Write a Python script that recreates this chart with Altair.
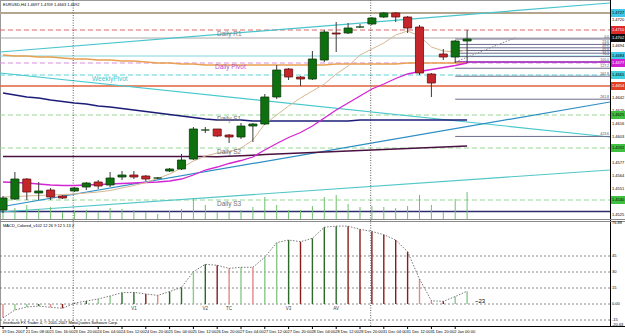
import altair as alt
import pandas as pd

# ---------------- data ----------------
bar_index = list(range(40))
opens = [1.4530, 1.4541, 1.4561, 1.4547, 1.4550, 1.4544, 1.4549, 1.4553, 1.4558, 1.4555,
         1.4563, 1.4565, 1.4564, 1.4562, 1.4569, 1.4571, 1.4581, 1.4610, 1.4611, 1.4605,
         1.4603, 1.4614, 1.4616, 1.4643, 1.4671, 1.4663, 1.4661, 1.4680, 1.4707, 1.4707,
         1.4713, 1.4716, 1.4723, 1.4727, 1.4723, 1.4713, 1.4666, 1.4686, 1.4683, 1.4699]
highs = [1.4544, 1.4568, 1.4562, 1.4558, 1.4552, 1.4545, 1.4553, 1.4558, 1.4560, 1.4568,
         1.4569, 1.4569, 1.4565, 1.4563, 1.4572, 1.4586, 1.4613, 1.4613, 1.4611, 1.4606,
         1.4617, 1.4617, 1.4646, 1.4675, 1.4672, 1.4664, 1.4689, 1.4710, 1.4718, 1.4717,
         1.4716, 1.4723, 1.4728, 1.4728, 1.4724, 1.4715, 1.4667, 1.4691, 1.4700, 1.4710]
lows = [1.4527, 1.4540, 1.4540, 1.4540, 1.4540, 1.4541, 1.4548, 1.4550, 1.4551, 1.4553,
        1.4560, 1.4561, 1.4559, 1.4561, 1.4568, 1.4570, 1.4580, 1.4607, 1.4603, 1.4597,
        1.4601, 1.4598, 1.4615, 1.4641, 1.4660, 1.4654, 1.4660, 1.4678, 1.4688, 1.4706,
        1.4712, 1.4715, 1.4722, 1.4718, 1.4707, 1.4665, 1.4643, 1.4680, 1.4677, 1.4677]
closes = [1.4542, 1.4561, 1.4548, 1.4549, 1.4543, 1.4542, 1.4552, 1.4557, 1.4554, 1.4562,
          1.4565, 1.4563, 1.4561, 1.4562, 1.4571, 1.4580, 1.4611, 1.4610, 1.4604, 1.4603,
          1.4614, 1.4616, 1.4643, 1.4670, 1.4663, 1.4661, 1.4681, 1.4708, 1.4706, 1.4712,
          1.4713, 1.4722, 1.4727, 1.4723, 1.4712, 1.4667, 1.4657, 1.4683, 1.4699, 1.4701]
volumes = [70, 110, 140, 100, 120, 70, 80, 90, 70, 110, 100, 90, 70, 50, 80, 100, 210, 140, 70, 70,
           90, 120, 220, 140, 90, 90, 130, 220, 240, 150, 120, 130, 120, 110, 130, 240, 140, 70, 200, 270]

ma_tan = [1.4543, 1.45435, 1.4544, 1.45445, 1.4545, 1.45455, 1.4546, 1.4547, 1.4548, 1.45495,
          1.4552, 1.45545, 1.45575, 1.45615, 1.4566, 1.4572, 1.4579, 1.4584, 1.4587, 1.4588,
          1.4592, 1.4600, 1.4616, 1.4625, 1.4634, 1.4642, 1.4649, 1.4656, 1.4666, 1.4674,
          1.4685, 1.4691, 1.4697, 1.4705, 1.4709, 1.4704, 1.4693, 1.4689, 1.4688, 1.4690]
ma_magenta = [1.4558, 1.45575, 1.4557, 1.4556, 1.4555, 1.45545, 1.45545, 1.4555, 1.45555, 1.4556,
              1.45565, 1.4557, 1.45575, 1.4558, 1.4559, 1.4561, 1.4565, 1.4570, 1.4573, 1.45765,
              1.45795, 1.4583, 1.4590, 1.45965, 1.46025, 1.46075, 1.4614, 1.4622, 1.4630, 1.4637,
              1.4644, 1.4651, 1.4656, 1.46615, 1.4666, 1.46685, 1.46705, 1.46725, 1.46745, 1.4677]
ma_navy = [1.4647, 1.4645, 1.4643, 1.4642, 1.4640, 1.46385, 1.4637, 1.4636, 1.4634, 1.4633,
           1.46315, 1.4630, 1.46285, 1.4627, 1.46255, 1.4624, 1.46225, 1.4621, 1.4620, 1.4620,
           1.4620, 1.4619, 1.4619, 1.4619, 1.4619, 1.4619, 1.4619, 1.4619, 1.4619, 1.4619,
           1.4620, 1.4620, 1.4620, 1.4620, 1.4620, 1.4620, 1.4620, 1.4620, 1.4620, 1.4620]
ma_maroon = [1.45835] * 18 + [1.45832, 1.45838, 1.45843, 1.45848, 1.45854, 1.45859, 1.45865, 1.4587,
                              1.45875, 1.4588, 1.45885, 1.4589, 1.45895, 1.4590, 1.45906, 1.45911,
                              1.45916, 1.45921, 1.45926, 1.45931, 1.45936, 1.4594]
ma_orange = [1.4685, 1.4684, 1.4684, 1.4683, 1.4683, 1.4682, 1.4681, 1.4681, 1.4680, 1.4680,
             1.4679, 1.4679, 1.4678, 1.4677, 1.4677, 1.4676, 1.4676, 1.4675, 1.4675, 1.4675,
             1.4675, 1.4675, 1.4675, 1.4675, 1.4675, 1.4675, 1.4675, 1.4675, 1.4676, 1.4676,
             1.4676, 1.4676, 1.4676, 1.4676, 1.4677, 1.4677, 1.4677, 1.4677, 1.4677, 1.4677]

macd_values = [-13, -5.6, -2.8, -1.9, -3.1, -4.0, 0.8, 2.8, 4.7, 7.5,
               10.6, 10.9, 9.4, 8.1, 11.6, 15.6, 30.3, 37.2, 36.3, 33.4,
               34.4, 34.4, 43.8, 57.5, 60.0, 58.4, 61.6, 72, 73, 73,
               70, 68, 65, 60, 49, 23.4, 3, 2.5, 7, 12]
macd_state = ["lr", "lg", "lg", "dg", "lr", "dr", "dg", "dg", "lg", "lg",
              "dg", "dg", "dr", "lr", "dg", "dg", "lg", "dg", "dr", "lr",
              "lg", "lr", "lg", "lg", "dg", "dr", "dg", "dg", "dg", "dr",
              "dr", "dr", "dr", "dr", "dr", "lr", "lr", "dr", "lg", "lg"]
macd_marks_idx = [11, 17, 19, 24, 28]
macd_marks_txt = ["V1", "V2", "TC", "V3", "AV"]

level_names = ["R2", "R1", "Hi", "Cy", "Pivot", "Weekly", "Lo", "S1", "S2", "S3", "Base"]
level_prices = [1.4727, 1.4710, 1.4702, 1.4684, 1.4677, 1.4665, 1.4654, 1.4625, 1.4592, 1.4540, 1.45285]

trend_x1 = [-0.25, -0.25, -0.25, -0.25]
trend_p1 = [1.4688, 1.4667, 1.4533, 1.4528]
trend_x2 = [51.0, 51.0, 51.0, 51.0]
trend_p2 = [1.4737, 1.4603, 1.4638, 1.4570]

fib_start_idx = 38.0
fib_p0 = 1.4701
fib_p100 = 1.4678
fib_ratios = [0.0, 23.6, 38.2, 50.0, 61.8, 76.4, 100.0, 127.2, 161.8, 261.8, 423.6]
fib_diag_x = [37.8, 43.0]
fib_diag_p = [1.4677, 1.4702]

separator_idx = [5.9, 30.9]

date_idx = [0, 2, 4, 6, 8, 10, 12, 14, 16, 18, 20, 22, 24, 26, 28, 30, 32, 34, 36, 38]
date_labels = ["19 Dec 2007", "21 Dec 08:00", "21 Dec 16:00", "23 Dec 20:00", "24 Dec 04:00",
               "24 Dec 12:00", "24 Dec 20:00", "25 Dec 04:00", "25 Dec 12:00", "26 Dec 20:00",
               "27 Dec 04:00", "27 Dec 12:00", "27 Dec 20:00", "28 Dec 04:00", "28 Dec 12:00",
               "28 Dec 20:00", "31 Dec 04:00", "31 Dec 12:00", "31 Dec 20:00", "2 Jan 00:00"]

price_ticks = [1.4720, 1.4694, 1.4642, 1.4629, 1.4616, 1.4603,
               1.4577, 1.4564, 1.4551, 1.4525]
box_prices = [1.4727, 1.4710, 1.4702, 1.4684, 1.4677, 1.4665, 1.4654, 1.4625, 1.4592, 1.4540]
macd_ticks = [75.5, 45, 30, 15, 0, -15, -19.5]
macd_tick_txt = ["76.88", "45", "30", "15", "0.00", "-15", "-20.63"]

# ---------------- scales ----------------
FONT = "Liberation Sans"
x_scale = alt.Scale(domain=[0, 50], range=[3, 598], zero=False, nice=False)
price_scale = alt.Scale(domain=[1.4522, 1.4740], range=[218, 0], zero=False, nice=False)
vol_scale = alt.Scale(domain=[0, 1000], range=[219, 119], zero=False, nice=False)
macd_scale = alt.Scale(domain=[-20.625, 76.875], range=[326, 222], zero=False, nice=False)


def X(f):
    return alt.X(f, type="quantitative", scale=x_scale, axis=None)


def Y(f, s=price_scale):
    return alt.Y(f, type="quantitative", scale=s, axis=None)


df = pd.DataFrame(dict(i=bar_index, o=opens, h=highs, l=lows, c=closes, v=volumes,
                       m=macd_values, ms=macd_state, tan=ma_tan, mag=ma_magenta,
                       navy=ma_navy, mar=ma_maroon, ora=ma_orange))
df["xl"] = df.i - 0.34
df["xr"] = df.i + 0.34
df["z"] = 0.0
df["fill"] = ["#0f700f" if c >= o else "#c4262b" for o, c in zip(df.o, df.c)]
df["edge"] = ["#0b3d0b" if c >= o else "#6a1010" for o, c in zip(df.o, df.c)]
mcol = {"dg": "#2b6a2b", "lg": "#8cc88c", "dr": "#8a1c1c", "lr": "#e08a8a"}
df["mhex"] = [mcol[s] for s in df.ms]

layers = []
one = pd.DataFrame({"a": [0]})

# frame
layers.append(alt.Chart(one).mark_rule(color="#9a9a9a", strokeWidth=1).encode(
    x=alt.value(0), x2=alt.value(610), y=alt.value(0.5)))
layers.append(alt.Chart(one).mark_rule(color="#9a9a9a", strokeWidth=1).encode(
    x=alt.value(0.5), y=alt.value(0), y2=alt.value(326)))

# horizontal levels
lv = pd.DataFrame(dict(name=level_names, p=level_prices))
lvl_style = {
    "R2": ("#b4a68e", 2, None), "R1": ("#e06464", 1, [5, 3]), "Hi": ("#a8a8a8", 1, None),
    "Cy": ("#80d4dc", 1, None), "Pivot": ("#d890e0", 1.2, [5, 3]), "Weekly": ("#5cd4d8", 1, [5, 3]),
    "Lo": ("#e0603c", 1.5, None), "S1": ("#98d898", 1, [5, 3]), "S2": ("#98d898", 1, [5, 3]),
    "S3": ("#98d898", 1, [5, 3]), "Base": ("#2c2c70", 1.5, None)}
for nm, (col, w, dash) in lvl_style.items():
    kw = dict(color=col, strokeWidth=w)
    if dash:
        kw["strokeDash"] = dash
    layers.append(alt.Chart(lv).transform_filter(alt.datum.name == nm).mark_rule(**kw).encode(
        y=Y("p"), x=alt.value(0), x2=alt.value(610)))

# trendlines
td = pd.DataFrame(dict(x1=trend_x1, p1=trend_p1, x2=trend_x2, p2=trend_p2,
                       col=["#48c4cc", "#48c8cc", "#2c8ec4", "#52c6c8"]))
layers.append(alt.Chart(td).mark_rule(strokeWidth=1.2).encode(
    x=X("x1"), x2="x2", y=Y("p1"), y2="p2", color=alt.Color("col:N", scale=None)))

# fibonacci
fd = pd.DataFrame(dict(r=fib_ratios))
fd["p"] = fib_p0 - (fib_p0 - fib_p100) * fd.r / 100.0
fd["x"] = fib_start_idx
fd["lab"] = [("%.1f" % r) for r in fib_ratios]
layers.append(alt.Chart(fd).mark_rule(color="#6c6c8e", strokeWidth=1).encode(
    x=X("x"), x2=alt.value(610), y=Y("p")))
layers.append(alt.Chart(fd).transform_filter(alt.datum.r == 100).mark_rule(color="#b048c8", strokeWidth=2).encode(
    x=X("x"), x2=alt.value(610), y=Y("p")))
layers.append(alt.Chart(fd).mark_text(font=FONT, fontSize=3.5, align="right", baseline="bottom",
                                      color="#4c4c6e", dy=-0.5).encode(
    x=alt.value(609), y=Y("p"), text="lab:N"))
fdd = pd.DataFrame(dict(x=fib_diag_x, p=fib_diag_p))
layers.append(alt.Chart(fdd).mark_line(color="#8a8a8a", strokeWidth=1, strokeDash=[1.5, 1.5]).encode(
    x=X("x"), y=Y("p")))

# separators
sd = pd.DataFrame(dict(t=separator_idx))
layers.append(alt.Chart(sd).mark_rule(color="#606060", strokeWidth=1, strokeDash=[1, 1.5]).encode(
    x=X("t"), y=alt.value(0), y2=alt.value(326)))

# moving averages
for f, col, w in [("ora", "#e8a050", 1.5), ("navy", "#1c1c78", 1.5), ("mar", "#4a1040", 1.5),
                  ("mag", "#d424d4", 1.3), ("tan", "#d6b892", 1)]:
    layers.append(alt.Chart(df).mark_line(color=col, strokeWidth=w).encode(x=X("i"), y=Y(f)))

# volume
layers.append(alt.Chart(df).mark_rule(color="#70c070", strokeWidth=1).encode(
    x=X("i"), y=Y("v", vol_scale), y2="z"))

# candles
layers.append(alt.Chart(df).mark_rule(color="#3a3a3a", strokeWidth=1).encode(
    x=X("i"), y=Y("l"), y2="h"))
layers.append(alt.Chart(df).mark_rect(strokeWidth=0.8).encode(
    x=X("xl"), x2="xr", y=Y("o"), y2="c",
    fill=alt.Fill("fill:N", scale=None), stroke=alt.Stroke("edge:N", scale=None)))

# level labels
lab = pd.DataFrame(dict(t=["Daily R1", "Daily Pivot", "WeeklyPivot", "Daily S1", "Daily S2", "Daily S3"],
                        p=[level_prices[1], level_prices[4], level_prices[5], level_prices[7],
                           level_prices[8], level_prices[9]],
                        px=[217, 215, 92, 217, 217, 217],
                        col=["#808080", "#c050c8", "#40c8d0", "#707070", "#707070", "#707070"]))
for _, r in lab.iterrows():
    layers.append(alt.Chart(lab).transform_filter(alt.datum.t == r.t).mark_text(
        font=FONT, fontSize=6.5, align="left", baseline="top", dy=1, color=r.col).encode(
        x=alt.value(r.px), y=Y("p"), text="t:N"))

# price axis
layers.append(alt.Chart(one).mark_rule(color="#000000", strokeWidth=1).encode(
    x=alt.value(610.5), y=alt.value(0), y2=alt.value(327)))
pt = pd.DataFrame(dict(p=price_ticks))
pt["t"] = ["%.4f" % p for p in price_ticks]
layers.append(alt.Chart(pt).mark_text(font=FONT, fontSize=4, align="left", baseline="middle",
                                      color="#000000").encode(x=alt.value(612), y=Y("p"), text="t:N"))
bx = pd.DataFrame(dict(p=box_prices))
bx["top"] = bx.p + 0.0004
bx["bot"] = bx.p - 0.0004
bx["t"] = ["%.4f" % p for p in box_prices]
bx["bg"] = ["#40c8e8", "#e02828", "#101010", "#40c8e8", "#d020d0", "#40d0e0", "#e04020",
            "#40c040", "#40c040", "#40c040"]
bx["fg"] = ["#000000", "#ffffff", "#ffffff", "#000000", "#ffffff", "#000000", "#ffffff",
            "#000000", "#000000", "#000000"]
layers.append(alt.Chart(bx).mark_rect().encode(
    x=alt.value(611), x2=alt.value(625), y=Y("top"), y2="bot", fill=alt.Fill("bg:N", scale=None)))
layers.append(alt.Chart(bx).mark_text(font=FONT, fontSize=4, align="left", baseline="middle").encode(
    x=alt.value(612), y=Y("p"), text="t:N", color=alt.Color("fg:N", scale=None)))

# header
layers.append(alt.Chart(one).mark_text(font=FONT, fontSize=4, align="left", baseline="middle",
                                       color="#000000").encode(
    x=alt.value(3), y=alt.value(5), text=alt.value("EURUSD,H4  1.4697 1.4709 1.4663 1.4692")))

# panel separators
layers.append(alt.Chart(one).mark_rule(color="#8a8a8a", strokeWidth=1).encode(
    x=alt.value(0), x2=alt.value(625), y=alt.value(219.5)))
layers.append(alt.Chart(one).mark_rule(color="#8a8a8a", strokeWidth=1).encode(
    x=alt.value(0), x2=alt.value(625), y=alt.value(221.5)))
layers.append(alt.Chart(one).mark_rule(color="#000000", strokeWidth=1).encode(
    x=alt.value(0), x2=alt.value(625), y=alt.value(326.5)))

# MACD panel
mt = pd.DataFrame(dict(v=macd_ticks, t=macd_tick_txt))
layers.append(alt.Chart(mt).transform_filter((alt.datum.v < 50) & (alt.datum.v > -18)).mark_rule(
    color="#707070", strokeWidth=0.8, strokeDash=[2, 2]).encode(
    x=alt.value(0), x2=alt.value(610), y=Y("v", macd_scale)))
layers.append(alt.Chart(df).mark_rule(strokeWidth=1.4).encode(
    x=X("i"), y=Y("m", macd_scale), y2="z", color=alt.Color("mhex:N", scale=None)))
layers.append(alt.Chart(df).mark_line(color="#555555", strokeWidth=0.8, strokeDash=[1.5, 1.5]).encode(
    x=X("i"), y=Y("m", macd_scale)))
layers.append(alt.Chart(mt).mark_text(font=FONT, fontSize=4, align="left", baseline="middle",
                                      color="#000000").encode(
    x=alt.value(612), y=Y("v", macd_scale), text="t:N"))
mk = pd.DataFrame(dict(i=macd_marks_idx, t=macd_marks_txt))
layers.append(alt.Chart(mk).mark_text(font=FONT, fontSize=4.5, align="center", baseline="top",
                                      color="#404040").encode(
    x=X("i"), y=alt.value(306), text="t:N"))
layers.append(alt.Chart(one).mark_text(font=FONT, fontSize=4, align="left", baseline="middle",
                                       color="#000000").encode(
    x=alt.value(3), y=alt.value(226), text=alt.value("MACD_Colored_v102 12 26 9 12 5 13 2")))
layers.append(alt.Chart(one).mark_text(font=FONT, fontSize=6, align="left", baseline="middle",
                                       color="#000000").encode(
    x=alt.value(475), y=alt.value(301), text=alt.value("~23")))
layers.append(alt.Chart(one).mark_text(font=FONT, fontSize=4, align="left", baseline="middle",
                                       color="#000000").encode(
    x=alt.value(3), y=alt.value(323), text=alt.value("Interbank FX Trader 4, \u00a9 2001-2007 MetaQuotes Software Corp.")))

# date axis
dd = pd.DataFrame(dict(i=date_idx, t=date_labels))
layers.append(alt.Chart(dd).mark_rule(color="#000000", strokeWidth=1).encode(
    x=X("i"), y=alt.value(326), y2=alt.value(329)))
layers.append(alt.Chart(dd).mark_text(font=FONT, fontSize=4, align="left", baseline="middle",
                                      color="#000000", dx=-1).encode(
    x=X("i"), y=alt.value(331.5), text="t:N"))

chart = alt.layer(*layers).properties(
    width=625, height=336, autosize=alt.AutoSizeParams(type="none"), padding=0,
    background="#ffffff").resolve_scale(y="independent").configure_view(strokeWidth=0)

chart.save("out.html", embed_options={"renderer": "svg", "actions": False})
